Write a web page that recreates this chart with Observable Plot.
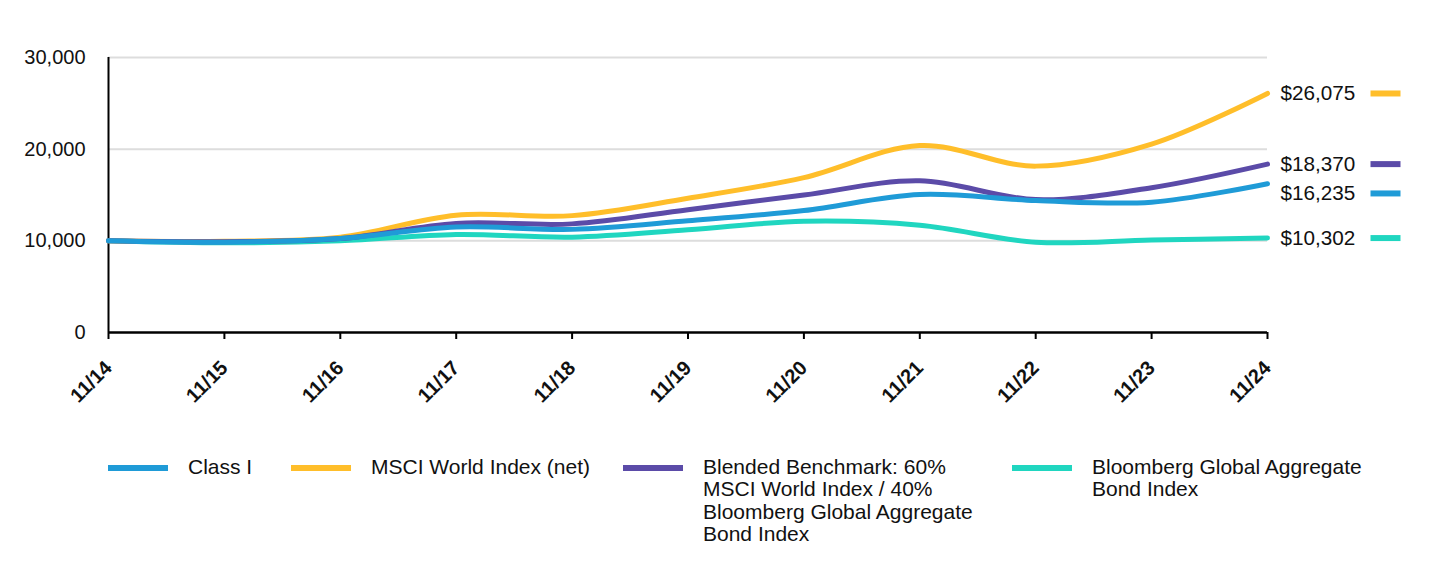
<!DOCTYPE html>
<html>
<head>
<meta charset="utf-8">
<script src="https://cdn.jsdelivr.net/npm/d3@7"></script>
<script src="https://cdn.jsdelivr.net/npm/@observablehq/plot@0.6"></script>
<style>
  html, body { margin: 0; padding: 0; background: #fff; }
  body { width: 1440px; height: 564px; overflow: hidden; font-family: "Liberation Sans", Arial, sans-serif; }
  #legend { display: flex; align-items: flex-start; padding-left: 108px; margin-top: 36px; }
  .item { display: flex; align-items: flex-start; }
  .sw { width: 60px; height: 6px; margin-top: 9px; margin-right: 20px; flex: none; }
  .lbl { font-size: 21px; line-height: 22.3px; color: #111; white-space: nowrap; }
</style>
</head>
<body>
<div id="chart"></div>
<div id="legend"></div>
<script>
const years = [2014, 2015, 2016, 2017, 2018, 2019, 2020, 2021, 2022, 2023, 2024];
const tickLabels = ["11/14","11/15","11/16","11/17","11/18","11/19","11/20","11/21","11/22","11/23","11/24"];
const seriesNames = [
  "Class I",
  "MSCI World Index (net)",
  "Blended Benchmark: 60% MSCI World Index / 40% Bloomberg Global Aggregate Bond Index",
  "Bloomberg Global Aggregate Bond Index"
];
const seriesColors = ["#1f9bd7", "#ffbe2a", "#5b4ba8", "#20d6c0"];
const classI   = [10000, 9850, 10250, 11500, 11250, 12180, 13300, 15050, 14400, 14220, 16235];
const msci     = [10000, 9950, 10400, 12800, 12750, 14650, 16900, 20400, 18150, 20550, 26075];
const blended  = [10000, 9900, 10250, 11900, 11850, 13400, 15000, 16550, 14500, 15800, 18370];
const bond     = [10000, 9780, 10000, 10690, 10400, 11200, 12130, 11700, 9850, 10100, 10302];
const seriesValues = [classI, msci, blended, bond];
const yTicks = [0, 10000, 20000, 30000];

const rows = [];
seriesNames.forEach((name, i) => {
  years.forEach((yr, j) => rows.push({series: name, year: yr, value: seriesValues[i][j], color: seriesColors[i]}));
});

// end labels, dodged so they do not overlap
const ends = seriesNames.map((name, i) => ({
  series: name, color: seriesColors[i], value: seriesValues[i][seriesValues[i].length - 1],
  year: years[years.length - 1]
})).sort((a, b) => b.value - a.value);
const minSep = 3200;
ends.forEach((d, k) => {
  d.labelValue = d.value;
  if (k > 0 && ends[k - 1].labelValue - d.labelValue < minSep) d.labelValue = ends[k - 1].labelValue - minSep;
});

const rectSymbol = { draw(ctx) { ctx.rect(-15, -3, 30, 6); } };
const drawOrder = [3, 1, 2, 0];

const chart = Plot.plot({
  width: 1440,
  height: 420,
  marginLeft: 108,
  marginRight: 173,
  marginTop: 57,
  marginBottom: 88,
  style: { fontFamily: "'Liberation Sans', Arial, sans-serif", background: "#fff", overflow: "visible" },
  x: { domain: [2014, 2024], type: "linear" },
  y: { domain: [0, 30000] },
  marks: [
    Plot.gridY(yTicks.filter(t => t > 0), { stroke: "#dddddd", strokeOpacity: 1, strokeWidth: 2 }),
    Plot.axisY({ ticks: yTicks, tickSize: 0, tickPadding: 23, tickFormat: d3.format(","), fontSize: 20, label: null, fill: "#111" }),
    Plot.axisX({ ticks: years, tickFormat: (d) => tickLabels[years.indexOf(d)], tickRotate: -45, tickSize: 7, tickPadding: 25,
      fontSize: 20, fontWeight: "bold", label: null, stroke: "#000", strokeWidth: 2, fill: "#111" }),
    Plot.ruleX([2014], { stroke: "#000", strokeWidth: 2 }),
    Plot.ruleY([0], { stroke: "#000", strokeWidth: 2.5 }),
    ...drawOrder.map(i => Plot.line(rows.filter(r => r.series === seriesNames[i]), {
      x: "year", y: "value", stroke: seriesColors[i], strokeWidth: 5, curve: "catmull-rom"
    })),
    Plot.text(ends, { x: "year", y: "labelValue", text: d => "$" + d3.format(",")(d.value), dx: 13, textAnchor: "start",
      fontSize: 20.7, fill: "#111" }),
    Plot.dot(ends, { x: "year", y: "labelValue", dx: 118, symbol: rectSymbol, fill: "color", stroke: "none", r: 5 })
  ]
});
document.getElementById("chart").appendChild(chart);

const legendWidths = [183, 332, 389, null];
const legend = document.getElementById("legend");
const legendLines = [
  ["Class I"],
  ["MSCI World Index (net)"],
  ["Blended Benchmark: 60%", "MSCI World Index / 40%", "Bloomberg Global Aggregate", "Bond Index"],
  ["Bloomberg Global Aggregate", "Bond Index"]
];
seriesNames.forEach((name, i) => {
  const item = document.createElement("div");
  item.className = "item";
  if (legendWidths[i]) item.style.width = legendWidths[i] + "px";
  const sw = document.createElement("div");
  sw.className = "sw";
  sw.style.background = seriesColors[i];
  const lbl = document.createElement("div");
  lbl.className = "lbl";
  lbl.innerHTML = legendLines[i].join("<br>");
  item.appendChild(sw);
  item.appendChild(lbl);
  legend.appendChild(item);
});
</script>
</body>
</html>
